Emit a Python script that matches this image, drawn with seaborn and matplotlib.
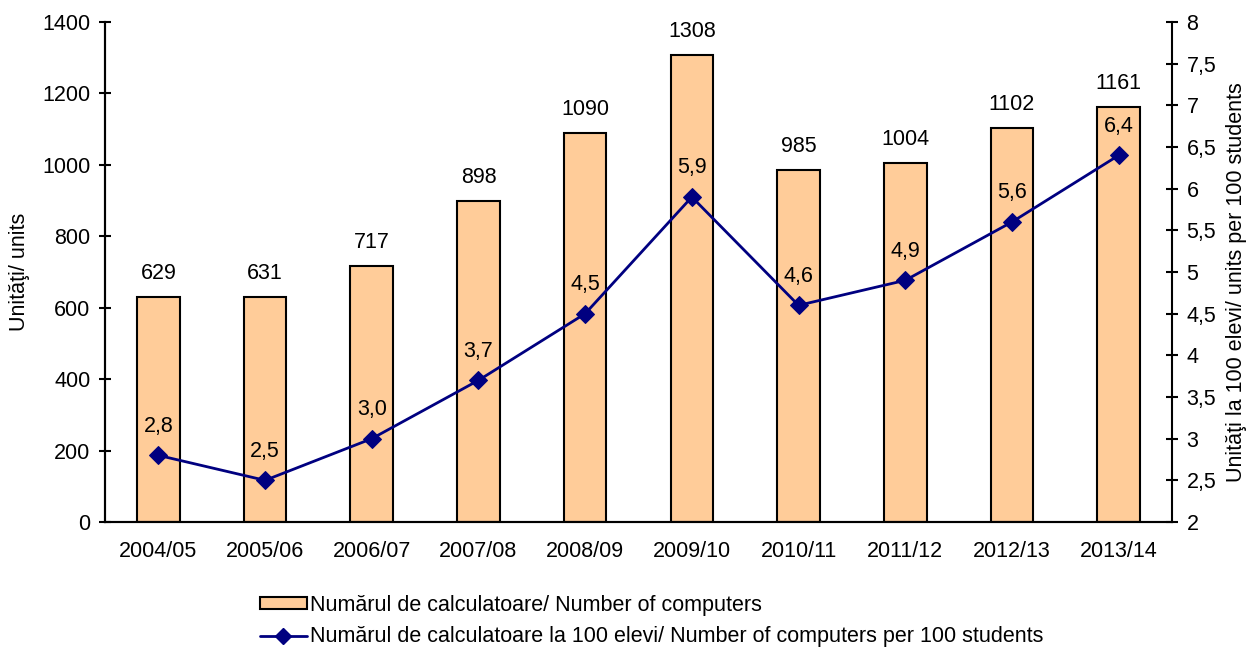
import numpy as np
import pandas as pd
import matplotlib
matplotlib.use("Agg")
import matplotlib.pyplot as plt
from matplotlib.ticker import FixedLocator, FuncFormatter
import seaborn as sns

# --- Data ---
years = ["2004/05", "2005/06", "2006/07", "2007/08", "2008/09",
         "2009/10", "2010/11", "2011/12", "2012/13", "2013/14"]
computers = [629, 631, 717, 898, 1090, 1308, 985, 1004, 1102, 1161]
per_100 = [2.8, 2.5, 3.0, 3.7, 4.5, 5.9, 4.6, 4.9, 5.6, 6.4]

BAR_COLOR = "#FFCC99"
LINE_COLOR = "#000080"
FS = 15.5

sns.set_theme(style="white")
plt.rcParams["font.family"] = ["Liberation Sans", "DejaVu Sans"]
plt.rcParams.update({"font.size": FS, "text.color": "black",
                     "axes.labelcolor": "black", "xtick.color": "black",
                     "ytick.color": "black"})

df = pd.DataFrame({"year": years, "computers": computers,
                   "per_100": per_100, "pos": np.arange(len(years))})

fig = plt.figure(figsize=(12.57, 6.53), dpi=100)
ax = fig.add_axes([105 / 1257, 1 - 522 / 653, (1172 - 105) / 1257, 500 / 653])

sns.barplot(data=df, x="year", y="computers", ax=ax, color=BAR_COLOR,
            edgecolor="black", linewidth=1.5, width=0.4, saturation=1)
for p, v in zip(ax.patches, computers):
    ax.annotate(f"{v}", (p.get_x() + p.get_width() / 2, v),
                xytext=(0, 17), textcoords="offset points",
                ha="center", va="center", fontsize=FS)

ax.set_ylim(0, 1400)
ax.set_xlim(-0.5, len(years) - 0.5)
ax.set_yticks(np.arange(0, 1401, 200))
ax.set_xlabel("")
ax.set_ylabel("Unităţi/ units", fontsize=FS, labelpad=9)

# x ticks: labels at centres, tick marks at category boundaries
ax.xaxis.set_minor_locator(FixedLocator(np.arange(-0.5, len(years), 1.0)))
ax.tick_params(axis="x", which="major", length=0, pad=14, labelsize=FS)
ax.tick_params(axis="x", which="minor", direction="inout", length=10, width=1.5, color="black")
ax.tick_params(axis="y", direction="inout", length=9, width=1.5, color="black",
               left=True, labelsize=FS, pad=6)

ax2 = ax.twinx()
sns.lineplot(data=df, x="pos", y="per_100", ax=ax2, color=LINE_COLOR,
             linewidth=2, marker="D", markersize=9, markeredgecolor=LINE_COLOR)
for x, v in zip(df["pos"], per_100):
    ax2.annotate(f"{v:.1f}".replace(".", ","), (x, v), xytext=(0, 21),
                 textcoords="offset points", ha="center", va="center", fontsize=FS)

ax2.set_ylim(2, 8)
ax2.set_yticks(np.arange(2, 8.01, 0.5))
ax2.yaxis.set_major_formatter(FuncFormatter(
    lambda v, _: f"{v:g}".replace(".", ",")))
ax2.set_ylabel("Unităţi la 100 elevi/ units per 100 students", fontsize=FS, labelpad=7)
ax2.yaxis.label.set_y(0.48)
ax2.tick_params(axis="y", direction="inout", length=9, width=1.5, color="black",
                right=True, labelsize=FS, pad=6)
ax2.set_xlim(-0.5, len(years) - 0.5)

for a in (ax, ax2):
    a.spines["top"].set_visible(False)
    for s in ("left", "right", "bottom"):
        a.spines[s].set_color("black")
        a.spines[s].set_linewidth(1.5)
ax.spines["right"].set_visible(False)

bar_handle = plt.Rectangle((0, 0), 1, 1, facecolor=BAR_COLOR, edgecolor="black", linewidth=1.5)
line_handle = plt.Line2D([], [], color=LINE_COLOR, linewidth=2, marker="D",
                         markersize=8)
fig.legend([bar_handle, line_handle],
           ["Numărul de calculatoare/ Number of computers",
            "Numărul de calculatoare la 100 elevi/ Number of computers per 100 students"],
           loc="center left", bbox_to_anchor=(249 / 1257, 1 - 621 / 653),
           frameon=False, fontsize=FS, handlelength=2.2, handleheight=0.45,
           handletextpad=0.15, labelspacing=0.5, borderpad=0)

fig.savefig("out.png", dpi=100)
